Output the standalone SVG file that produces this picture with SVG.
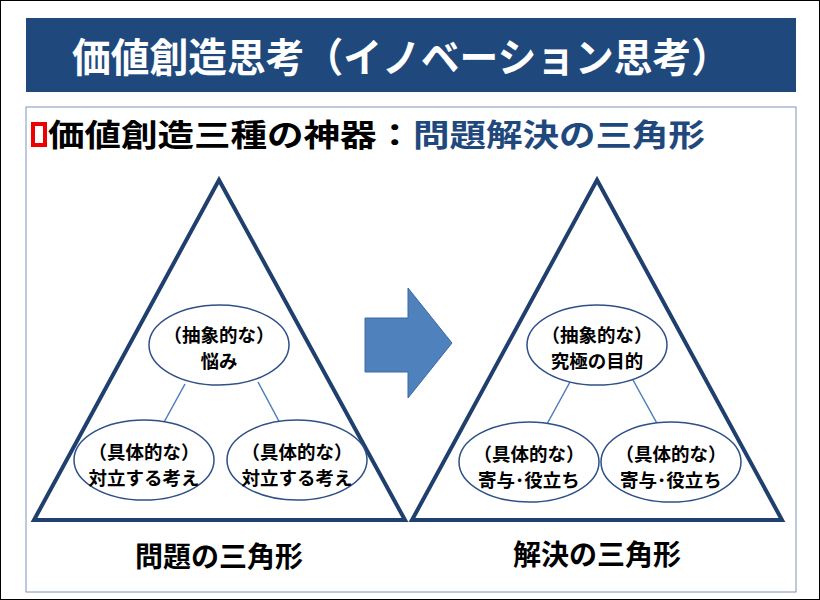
<svg xmlns="http://www.w3.org/2000/svg" width="820" height="600" viewBox="0 0 820 600">
<style>
text{font-family:"Noto Sans CJK JP","Noto Sans CJK SC",sans-serif;font-weight:bold;text-anchor:middle}
.tri{fill:#fff;stroke:#1f3f6e;stroke-width:4;stroke-linejoin:miter}
.el{fill:#fff;stroke:#2f5086;stroke-width:1.5}
.ln{stroke:#4a7ebb;stroke-width:1.5}
.t{font-size:18.5px;fill:#000}
.lab{font-size:28px;fill:#000}
</style>
<rect x="0.5" y="0.5" width="819" height="599" fill="#fff" stroke="#000"/>
<g id="title"><rect x="26" y="18" width="770" height="74" fill="#1f497d"/>
<text x="72" y="72" font-size="40" fill="#fff" style="text-anchor:start" textLength="658" lengthAdjust="spacingAndGlyphs">価値創造思考（イノベーション思考）</text></g>
<rect x="26" y="107" width="770" height="485" fill="#fff" stroke="#7f95b5" stroke-width="1"/>
<g id="subtitle"><rect x="33" y="124" width="12" height="21" fill="none" stroke="#e00" stroke-width="4"/>
<text x="48" y="146" font-size="31" style="text-anchor:start" textLength="657" lengthAdjust="spacingAndGlyphs"><tspan fill="#000">価値創造三種の神器：</tspan><tspan fill="#1f497d">問題解決の三角形</tspan></text></g>
<g id="leftTri"><polygon class="tri" points="219,180 34,520 405,520"/></g>
<g id="rightTri"><polygon class="tri" points="597,180 412,520 782,520"/></g>
<g id="connectors">
<line class="ln" x1="185" y1="384" x2="163" y2="424"/>
<line class="ln" x1="258" y1="382" x2="281" y2="425"/>
<line class="ln" x1="570" y1="382" x2="547" y2="424"/>
<line class="ln" x1="633" y1="380" x2="659" y2="427"/>
</g>
<g id="arrow"><polygon points="365,318 408,318 408,288 452,343 408,398 408,372 365,372" fill="#4f81bd" stroke="#3a6aa3" stroke-width="1"/></g>
<g id="n1"><ellipse class="el" cx="219" cy="345" rx="70" ry="40"/><text class="t" x="219" y="342">（抽象的な）</text><text class="t" x="219" y="368">悩み</text></g>
<g id="n2"><ellipse class="el" cx="144" cy="460" rx="70" ry="40"/><text class="t" x="144" y="459">（具体的な）</text><text class="t" x="144" y="485">対立する考え</text></g>
<g id="n3"><ellipse class="el" cx="297" cy="460" rx="70" ry="40"/><text class="t" x="297" y="459">（具体的な）</text><text class="t" x="297" y="485">対立する考え</text></g>
<g id="n4"><ellipse class="el" cx="597" cy="345" rx="70" ry="40"/><text class="t" x="597" y="342">（抽象的な）</text><text class="t" x="597" y="368">究極の目的</text></g>
<g id="n5"><ellipse class="el" cx="529" cy="462" rx="70" ry="40"/><text class="t" x="529" y="461">（具体的な）</text><text class="t" x="529" y="487">寄与･役立ち</text></g>
<g id="n6"><ellipse class="el" cx="671" cy="462" rx="70" ry="40"/><text class="t" x="671" y="461">（具体的な）</text><text class="t" x="671" y="487">寄与･役立ち</text></g>
<text class="lab" x="219" y="567">問題の三角形</text>
<text class="lab" x="597" y="565">解決の三角形</text>
</svg>
